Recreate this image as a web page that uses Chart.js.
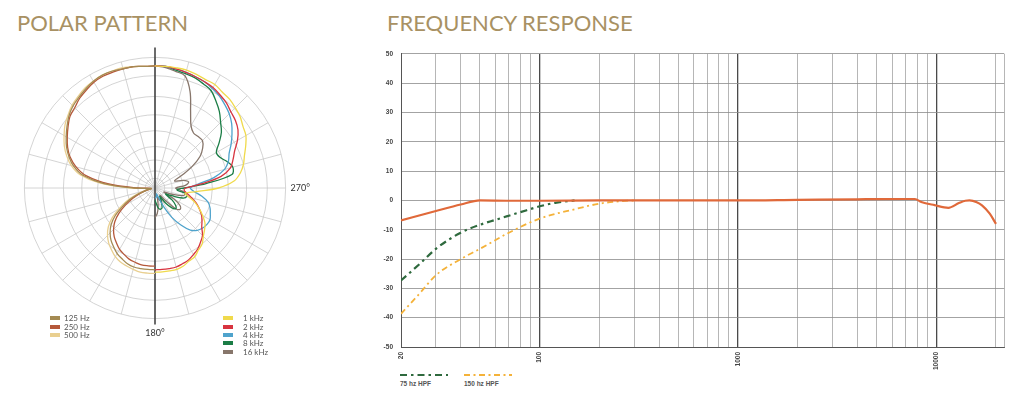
<!DOCTYPE html>
<html>
<head>
<meta charset="utf-8">
<script src="https://cdn.jsdelivr.net/npm/chart.js@4.4.1/dist/chart.umd.min.js"></script>
<style>
  body { margin: 0; background: #fff; width: 1024px; height: 394px; position: relative; overflow: hidden; font-family: Lato, 'Open Sans', sans-serif; }
  .title { position: absolute; font-size: 22px; font-weight: 400; color: #a89163; line-height: 22px; white-space: nowrap; }
  #polarChart { position: absolute; left: 13px; top: 43px; }
  #freqChart { position: absolute; left: 370px; top: 42px; }
  .legend { position: absolute; font-size: 8px; color: #555; }
  .legend .row { display: flex; align-items: center; height: 8.4px; white-space: nowrap; }
  .legend .swatch { display: inline-block; width: 10px; height: 4px; }
  .hpf { position: absolute; top: 373px; font: bold 6.5px 'Liberation Sans', Arial, sans-serif; color: #555; }
  .hpf span { color: #555; }
  .hpf svg { display: block; margin-bottom: 3px; }
</style>
</head>
<body>
<div class="title" style="left:17px; top:12px;">POLAR PATTERN</div>
<div class="title" style="left:387px; top:12px;">FREQUENCY RESPONSE</div>

<canvas id="polarChart" width="310" height="310"></canvas>
<div id="legendLow" class="legend" style="left:50px; top:314px;"></div>
<div id="legendHigh" class="legend" style="left:223px; top:314px;"></div>

<canvas id="freqChart" width="647" height="330"></canvas>
<div id="hpfLegend"></div>

<script>
// ---- Polar pattern data (relative level, on-axis = 100, every 5 degrees) ----
// low bands are drawn on the left half: 0..180 deg counter-clockwise from the top
// high bands are drawn on the right half: 0..180 deg clockwise from the top
const polarStep = 5;
const lowBands = ['125 Hz', '250 Hz', '500 Hz'];
const highBands = ['1 kHz', '2 kHz', '4 kHz', '8 kHz', '16 kHz'];

const level125 = [100,100,101,101,102,102,101,99,97,95,92,88,84,80,75,69,60,42,17,4,3,8,15,23,31,40,47,52,56,59,62,64,66,67,67,67,67];
const level250 = [100,100,101,101,101,101,100,98,96,93,91,87,83,79,74,67,57,38,14,3,3,7,13,20,28,36,43,48,52,55,58,60,62,63,64,64,64];
const level500 = [100,100,101,102,102,102,101,100,98,96,93,90,86,82,77,71,62,45,20,5,4,9,17,26,34,43,50,55,59,62,65,67,68,69,70,70,70];

const level1k = [100,100,100,100,99,98,98,96,95,93,91,88,86,82,78,75,71,65,52,34,25,29,35,40,45,50,53,56,60,62,65,66,68,69,69,69,69];
const level2k = [100,100,99,98,97,96,95,93,91,88,86,83,78,72,68,64,55,38,25,24,27,31,36,40,44,47,50,55,58,61,63,65,66,67,67,67,67];
const level4k = [100,100,99,98,97,96,94,92,89,86,82,77,72,67,64,59,49,35,29,32,39,45,48,50,52,52,51,49,45,37,28,17,8,5,7,8,8];
const level8k = [100,100,98,97,96,94,92,87,82,76,71,64,58,59,63,66,64,42,24,18,25,27,24,15,10,17,22,24,21,15,8,12,17,18,17,13,10];
const level16k = [100,99,97,95,84,69,59,55,55,55,51,45,35,24,17,24,28,25,17,21,25,24,15,8,18,25,27,24,13,7,10,13,10,8,15,21,24];

const polarRings = [8, 14, 23, 34, 47, 60, 75, 92, 107];

// ---- Frequency response data ----
const responseFreqs = [20, 30, 40, 50, 70, 100, 200, 500, 1000, 2000, 4000, 7000, 7800, 8400, 9800, 11500, 13000, 14000, 14700, 16000, 17000, 18600, 20000];
const responseLevels = [-6.8, -3.6, -1.4, 0, -0.1, -0.1, 0, 0, 0, 0.2, 0.4, 0.5, 0.5, -0.5, -1.6, -2.5, -0.9, -0.1, 0, -0.6, -1.7, -4.5, -8];

const hpf75Freqs = [20, 25, 30, 40, 50, 60, 70, 80, 100, 120, 150];
const hpf75Levels = [-27.3, -21.5, -16.5, -11, -8.3, -6.6, -5.2, -4, -2, -0.8, 0];

const hpf150Freqs = [20, 25, 30, 40, 50, 70, 100, 150, 200, 260, 300];
const hpf150Levels = [-38.7, -31.5, -25.5, -20, -16.5, -11, -6.2, -3, -1.1, -0.2, 0];

const freqGrid = [20,30,40,50,60,70,80,90,100,200,300,400,500,600,700,800,900,1000,2000,3000,4000,5000,6000,7000,8000,9000,10000,20000,22000];
const freqLabels = [20, 100, 1000, 10000];
const majorFreqs = [100, 1000, 10000];

// ---- build radar data ----
const polarLabels = [];
for (let a = 0; a < 360; a += polarStep) polarLabels.push((360 - a) % 360);
const half = polarLabels.length / 2;

function leftHalf(values) {
  return polarLabels.map((deg, i) => (i === 0 || i >= half) ? values[deg / polarStep] : null);
}
function rightHalf(values) {
  return polarLabels.map((deg, i) => i <= half ? values[i] : null);
}

const lowColors = ['#a48a52', '#b5583a', '#e9cf90'];
const highColors = ['#f0da4c', '#d8343f', '#4fa3cc', '#1b7d46', '#87766b'];
const lowLevels = [level125, level250, level500];
const highLevels = [level1k, level2k, level4k, level8k, level16k];

const polarDatasets = [];
lowBands.forEach((name, i) => {
  polarDatasets.push({ label: name, data: leftHalf(lowLevels[i]), borderColor: lowColors[i] });
});
highBands.forEach((name, i) => {
  polarDatasets.push({ label: name, data: rightHalf(highLevels[i]), borderColor: highColors[i] });
});

// draws the 0/180 axis a little past the outer ring
const axisLinePlugin = {
  id: 'axisLine',
  beforeDatasetsDraw(chart) {
    const r = chart.scales.r;
    const top = r.getPointPosition(0, r.drawingArea + 10);
    const bottom = r.getPointPosition(half, r.drawingArea + 6);
    const ctx = chart.ctx;
    ctx.save();
    ctx.strokeStyle = '#3a3a3a';
    ctx.lineWidth = 1.5;
    ctx.beginPath();
    ctx.moveTo(top.x, top.y);
    ctx.lineTo(bottom.x, bottom.y);
    ctx.stroke();
    ctx.restore();
  }
};

const polarChart = new Chart(document.getElementById('polarChart'), {
  type: 'radar',
  data: { labels: polarLabels, datasets: polarDatasets },
  plugins: [axisLinePlugin],
  options: {
    responsive: false,
    animation: false,
    events: [],
    plugins: { legend: { display: false }, tooltip: { enabled: false } },
    elements: {
      point: { radius: 0 },
      line: { borderWidth: 1.3, tension: 0.35, fill: false }
    },
    scales: {
      r: {
        min: 0,
        max: 107,
        afterBuildTicks: (scale) => {
          scale.ticks = [0].concat(polarRings).map(v => ({ value: v }));
        },
        ticks: { display: false },
        grid: { circular: true, color: '#c9c9c9', lineWidth: 0.8 },
        angleLines: {
          color: (c) => c.index % 3 === 0 ? '#c9c9c9' : 'rgba(0,0,0,0)',
          lineWidth: (c) => c.index % 3 === 0 ? 0.8 : 0
        },
        pointLabels: {
          callback: (label) => (label === 270 || label === 180) ? label + '°' : '',
          font: (c) => ({ family: 'Lato, sans-serif', size: 9, lineHeight: c.label ? 1.2 : 0 }),
          padding: (c) => c.label === '270°' ? 5 : (c.label === '180°' ? 9 : 0),
          color: '#333'
        }
      }
    }
  }
});

// polar legend
function fillLegend(el, datasets) {
  datasets.forEach(ds => {
    const row = document.createElement('div');
    row.className = 'row';
    const sw = document.createElement('span');
    sw.className = 'swatch';
    sw.style.background = ds.borderColor;
    const txt = document.createElement('span');
    txt.textContent = ds.label;
    txt.style.marginLeft = el.id === 'legendLow' ? '4px' : '10px';
    row.appendChild(sw);
    row.appendChild(txt);
    el.appendChild(row);
  });
}
fillLegend(document.getElementById('legendLow'), polarDatasets.slice(0, lowBands.length));
fillLegend(document.getElementById('legendHigh'), polarDatasets.slice(lowBands.length));

// ---- frequency response chart ----
function toPoints(xs, ys) {
  return xs.map((x, i) => ({ x: x, y: ys[i] }));
}

const tickFont = { family: "'Liberation Sans', Arial, sans-serif", size: 6.5, weight: 'bold' };

const freqChart = new Chart(document.getElementById('freqChart'), {
  type: 'line',
  data: {
    datasets: [
      { label: 'Response', data: toPoints(responseFreqs, responseLevels), borderColor: '#e0693a', borderWidth: 2.2 },
      { label: '75 hz HPF', data: toPoints(hpf75Freqs, hpf75Levels), borderColor: '#2f6a3e', borderWidth: 2.2, borderDash: [7, 4, 2.5, 4] },
      { label: '150 hz HPF', data: toPoints(hpf150Freqs, hpf150Levels), borderColor: '#f4b23a', borderWidth: 1.8, borderDash: [6, 3.5, 2, 3.5] }
    ]
  },
  options: {
    responsive: false,
    animation: false,
    events: [],
    layout: { padding: { top: 4, right: 7, left: 0, bottom: 0 } },
    plugins: { legend: { display: false }, tooltip: { enabled: false } },
    elements: {
      point: { radius: 0 },
      line: { cubicInterpolationMode: 'monotone', fill: false }
    },
    scales: {
      x: {
        type: 'logarithmic',
        min: 20,
        max: 22000,
        afterBuildTicks: (axis) => {
          axis.ticks = freqGrid.map(v => ({ value: v }));
        },
        afterFit: (axis) => { axis.height = 25; },
        ticks: {
          autoSkip: false,
          minRotation: 90,
          maxRotation: 90,
          padding: 5,
          font: tickFont,
          color: '#444',
          callback: (value) => freqLabels.includes(value) ? String(value) : ''
        },
        grid: {
          drawTicks: false,
          color: (c) => majorFreqs.includes(c.tick.value) ? '#4a4a4a' : (c.tick.value === 20 ? '#6a6a6a' : '#a3a3a3'),
          lineWidth: (c) => majorFreqs.includes(c.tick.value) ? 1.3 : 0.8
        },
        border: { display: true, color: '#555', width: 1 }
      },
      y: {
        min: -50,
        max: 50,
        afterFit: (axis) => { axis.width = 31; },
        ticks: { stepSize: 10, padding: 8, font: tickFont, color: '#444' },
        grid: { drawTicks: false, color: '#8c8c8c', lineWidth: 0.8 },
        border: { display: true, color: '#555', width: 1 }
      }
    }
  }
});

// HPF legend: line sample with the name underneath
const hpfLegend = document.getElementById('hpfLegend');
freqChart.data.datasets.slice(1).forEach((ds, i) => {
  const item = document.createElement('div');
  item.className = 'hpf';
  item.style.left = (400 + i * 64) + 'px';
  item.innerHTML = '<svg width="48" height="4"><line x1="0" y1="2" x2="48" y2="2" stroke="' + ds.borderColor +
    '" stroke-width="' + ds.borderWidth + '" stroke-dasharray="' + ds.borderDash.join(',') + '"/></svg>' +
    '<span>' + ds.label + '</span>';
  hpfLegend.appendChild(item);
});
</script>
</body>
</html>
